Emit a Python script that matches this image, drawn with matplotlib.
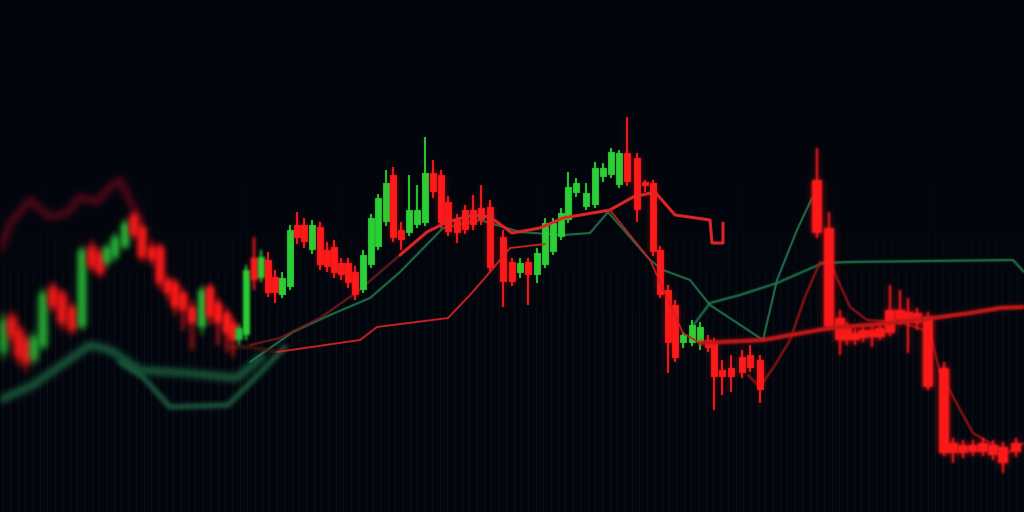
import numpy as np
import matplotlib
matplotlib.use("Agg")
import matplotlib.pyplot as plt

# ---- candles (time, open, close, high, low) ----
times = [3, 12, 19, 26, 34, 43, 53, 62, 72, 82, 92, 100, 107, 115, 125, 134, 142, 152, 160, 168,
         175, 183, 192, 202, 210, 218, 227, 233, 239,
         246, 254, 261, 268, 275, 282, 290, 297, 304, 312, 320, 327, 334, 341, 348, 355, 363, 371,
         378, 386, 393, 401, 409, 417, 425, 433, 441, 448, 457, 465, 473, 481, 490, 503, 512, 520,
         528, 537, 545, 553, 561, 568, 576, 586, 595, 603, 611, 619, 627, 637, 645, 653, 660, 668,
         675, 683, 692, 700, 708, 714, 722, 731, 742, 750, 760,
         817, 829, 840, 847, 855, 863, 872, 880, 890, 900, 908, 917, 928, 944, 953, 963, 973, 983,
         993, 1003, 1016]
opens = [159, 195, 182, 172, 152, 165, 225, 219, 205, 185, 265, 259, 249, 255, 265, 297, 285, 265, 265, 232,
         229, 219, 205, 185, 225, 209, 199, 189, 172,
         177, 254, 234, 252, 235, 217, 225, 287, 287, 262, 285, 262, 265, 249, 249, 240, 222, 247,
         265, 290, 337, 282, 279, 287, 289, 339, 337, 310, 292, 302, 302, 304, 305, 275, 250, 239,
         250, 237, 247, 260, 275, 292, 319, 305, 307, 335, 337, 327, 359, 354, 330, 329, 262, 222,
         207, 169, 169, 169, 172, 169, 142, 144, 155, 157, 152,
         332, 284, 194, 185, 179, 182, 182, 184, 202, 202, 200, 199, 195, 144, 69, 67, 67, 69,
         67, 65, 69]
closes = [192, 175, 155, 149, 175, 219, 205, 189, 182, 262, 245, 239, 265, 275, 289, 277, 255, 252, 229, 219,
          205, 202, 189, 222, 195, 189, 179, 172, 184,
          242, 232, 255, 219, 219, 234, 282, 274, 270, 287, 247, 245, 239, 237, 229, 217, 257, 294,
          314, 329, 274, 272, 302, 302, 339, 320, 289, 280, 279, 282, 287, 292, 244, 230, 230, 249,
          237, 259, 289, 289, 299, 325, 329, 319, 344, 344, 360, 359, 330, 302, 326, 260, 217, 169,
          154, 177, 187, 185, 164, 135, 135, 135, 139, 144, 122,
          279, 185, 172, 172, 172, 174, 175, 175, 179, 192, 190, 189, 125, 59, 59, 59, 60, 60,
          57, 49, 60]
highs = [200, 202, 187, 177, 182, 224, 230, 222, 210, 267, 272, 264, 269, 280, 294, 300, 290, 272, 269, 237,
         234, 224, 212, 227, 229, 214, 204, 194, 188,
         247, 275, 262, 260, 242, 240, 287, 300, 294, 292, 290, 270, 272, 254, 254, 246, 262, 298,
         318, 342, 345, 290, 337, 327, 375, 352, 342, 316, 298, 307, 317, 327, 312, 282, 254, 254,
         254, 264, 294, 294, 304, 340, 334, 329, 350, 349, 364, 362, 395, 359, 332, 332, 266, 227,
         212, 180, 192, 190, 177, 174, 152, 157, 162, 167, 157,
         364, 300, 202, 190, 184, 187, 187, 189, 227, 222, 214, 204, 200, 150, 74, 72, 72, 74,
         72, 70, 74]
lows = [152, 167, 147, 140, 147, 162, 200, 182, 177, 182, 240, 234, 244, 250, 262, 272, 250, 246, 222, 212,
        197, 182, 162, 177, 187, 167, 160, 155, 167,
        172, 222, 230, 215, 209, 214, 222, 268, 264, 258, 242, 240, 234, 232, 224, 212, 219, 244,
        262, 286, 270, 262, 276, 284, 286, 314, 284, 276, 269, 278, 282, 287, 240, 205, 226, 234,
        207, 229, 244, 257, 272, 289, 315, 302, 304, 330, 334, 324, 326, 290, 320, 256, 214, 139,
        150, 164, 166, 162, 160, 102, 117, 120, 134, 140, 109,
        274, 182, 157, 167, 167, 170, 165, 172, 176, 187, 159, 182, 122, 56, 49, 54, 56, 56,
        52, 39, 55]
assert len(times) == len(opens) == len(closes) == len(highs) == len(lows)

# ---- indicator lines (time, value) ----
red_far_t = [0, 10, 30, 50, 67, 80, 97, 110, 120, 133, 140]
red_far_v = [262, 289, 312, 295, 299, 315, 310, 325, 332, 305, 292]
green_up_t = [0, 33, 90, 110, 140, 185, 237, 262]
green_up_v = [112, 127, 167, 162, 142, 139, 134, 155]
green_lo_t = [120, 143, 170, 228, 260, 285]
green_lo_v = [150, 135, 105, 107, 139, 165]
green_a_t = [250, 293, 330, 370, 400, 443, 480, 520, 563, 590, 608, 650, 663, 690, 710, 763, 777, 797, 812]
green_a_v = [150, 180, 197, 214, 240, 284, 292, 280, 277, 279, 300, 252, 242, 232, 207, 172, 232, 282, 314]
green_b_t = [692, 710, 740, 777, 823, 850, 930, 1013, 1024]
green_b_v = [185, 209, 217, 229, 249, 250, 251, 252, 240]
red_a_t = [250, 280, 320, 357, 400, 427, 447, 473, 490, 512, 540, 563, 610, 633, 655, 675, 710, 712, 723, 723]
red_a_v = [167, 174, 194, 220, 257, 280, 290, 297, 295, 279, 284, 294, 302, 315, 320, 297, 292, 269, 269, 289]
red_b_t = [230, 250, 277, 360, 377, 448, 470, 490, 510, 545]
red_b_v = [165, 165, 160, 172, 185, 194, 217, 240, 264, 268]
red_c_t = [610, 650, 683, 700, 763, 830, 880, 933, 970, 1000, 1024]
red_c_v = [302, 252, 179, 169, 172, 184, 188, 194, 199, 204, 205]
red_d_t = [748, 760, 775, 790, 805, 820, 832, 850, 867, 900, 930, 940, 973, 1007, 1024]
red_d_v = [137, 125, 147, 172, 215, 250, 245, 205, 192, 190, 180, 139, 79, 59, 69]

BG = "#02050c"
UP, DOWN = "#2ccf35", "#ff1a1a"


def blur(a, s):
    if s <= 0:
        return a
    r = int(np.ceil(3 * s))
    k = np.exp(-0.5 * (np.arange(-r, r + 1) / s) ** 2)
    k /= k.sum()
    h, w = a.shape[:2]
    p = np.pad(a, ((r, r), (r, r), (0, 0)))
    a = sum(kk * p[:, i:i + w] for i, kk in enumerate(k))
    return sum(kk * a[i:i + h] for i, kk in enumerate(k))


class Soft:
    """agg filter: gaussian defocus plus an optional glow halo."""
    def __init__(self, sigma, glow=0.0, spread=4.0):
        self.sigma, self.glow, self.spread = sigma, glow, spread

    def __call__(self, im, dpi):
        pad = int(np.ceil(3 * max(self.sigma, self.spread if self.glow else 0))) + 2
        src = np.pad(im, ((pad, pad), (pad, pad), (0, 0)))
        a = src[..., 3:]
        pm = blur(src[..., :3] * a, self.sigma)
        a = blur(a, self.sigma)
        if self.glow:
            gpm = blur(pm, self.spread) * self.glow
            ga = blur(a, self.spread) * self.glow
            pm = pm + gpm * (1 - a)
            a = a + ga * (1 - a)
        rgb = pm / np.maximum(a, 1e-6)
        return np.concatenate([rgb, a], axis=2).clip(0, 1), -pad, -pad


def depth(t):
    # how far a time step sits from the focus plane (px of blur)
    if t < 236:
        return 3.6 - 1.4 * t / 236
    if t < 262:
        return 1.3
    if t < 790:
        return 0.45
    return 1.0


def line(t, v, color, lw, sigma=0.4, glow=0.0, z=2, alpha=1.0):
    ln, = ax.plot(t, v, color=color, lw=lw, zorder=z, alpha=alpha,
                  solid_joinstyle="round", solid_capstyle="round")
    ln.set_agg_filter(Soft(sigma, glow, 3.0))
    ln.set_rasterized(True)


fig = plt.figure(figsize=(10.24, 5.12), dpi=100, facecolor=BG)
ax = fig.add_axes([0, 0, 1, 1], facecolor=BG)
ax.set_xlim(0, 1024)
ax.set_ylim(0, 512)
ax.axis("off")

# faint screen columns, fading out towards the top
cols_x = np.arange(3, 1024, 7.4)
for y0, y1, a in [(0, 200, 1.0), (200, 240, 0.7), (240, 280, 0.45), (280, 330, 0.2)]:
    ax.vlines(cols_x, y0, y1, color="#0a0e17", lw=1.0, alpha=a, zorder=0)

# indicator lines
line(red_far_t, red_far_v, "#55091a", 5.0, sigma=3.5)
line(green_up_t, green_up_v, "#1b5a3c", 5.5, sigma=3.2)
line(green_lo_t, green_lo_v, "#1d5e40", 3.5, sigma=2.2)
line(green_a_t, green_a_v, "#22774c", 1.4, sigma=0.5)
line(green_b_t, green_b_v, "#21784a", 1.6, sigma=0.7)
line(red_b_t[:3], red_b_v[:3], "#4a1c12", 2.0, sigma=1.5)
line(red_b_t[2:], red_b_v[2:], "#d42424", 1.3, sigma=0.4, z=4)
line(red_a_t[:5], red_a_v[:5], "#7a1c1c", 1.4, sigma=0.6)
line(red_a_t[4:], red_a_v[4:], "#e22626", 2.2, sigma=0.4, z=4)
line(red_c_t[:4], red_c_v[:4], "#cc2020", 1.2, sigma=0.4, z=4)
line(red_c_t[3:], red_c_v[3:], "#c41818", 3.0, sigma=0.9, glow=0.3, z=4)
line(red_d_t, red_d_v, "#a01414", 1.5, sigma=0.8, z=2)

# candles: wicks then bodies, each softened according to depth
t = np.array(times, float)
o, c = np.array(opens, float), np.array(closes, float)
h, lo = np.array(highs, float), np.array(lows, float)
up = c >= o
cols = np.where(up, UP, DOWN)
left = t < 240
cols = np.where(left & up, "#28b838", cols)
bw = np.where(left, 8.0, np.where(t > 800, 9.5, 7.0))
ww = np.where(left, 2.2, np.where(t > 800, 2.0, 1.3))

wicks = ax.bar(t, h - lo, bottom=lo, width=ww, color=cols, zorder=3, linewidth=0)
bodies = ax.bar(t, np.maximum(np.abs(c - o), 1.5), bottom=np.minimum(o, c), width=bw,
                color=cols, zorder=3, linewidth=0)
for patches in (wicks, bodies):
    for ti, p, isup in zip(t, patches, up):
        g = 0.0 if isup else (0.55 if ti > 800 else 0.3)
        p.set_agg_filter(Soft(depth(ti), g, 3.5))
        p.set_rasterized(True)

fig.savefig("out.png", dpi=100, facecolor=BG)
